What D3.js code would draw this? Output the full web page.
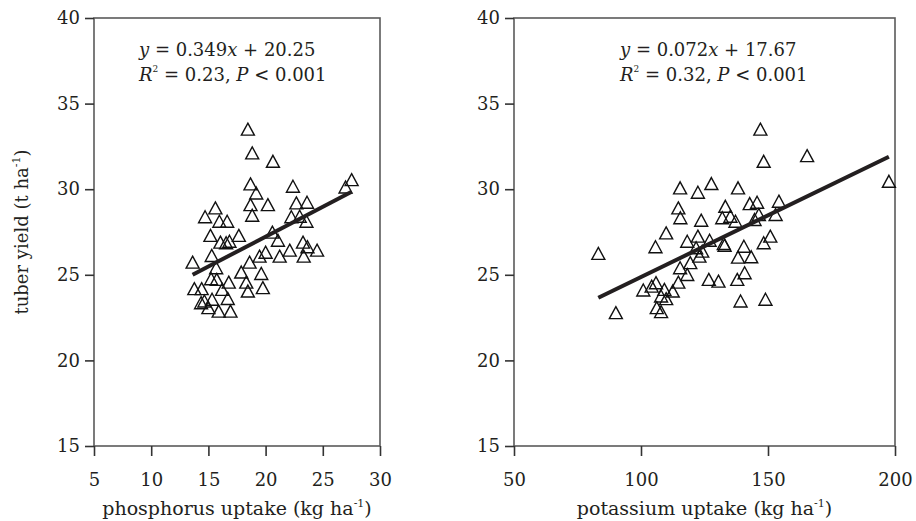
<!DOCTYPE html>
<html>
<head>
<meta charset="utf-8">
<script src="https://cdn.jsdelivr.net/npm/d3@7"></script>
<style>
  body { margin: 0; background: #fff; }
  text { font-family: "DejaVu Serif", serif; fill: #231f20; }
</style>
</head>
<body>
<script>
// phosphorus panel
const pUptake = [18.45, 18.83, 20.64, 18.68, 19.18, 22.39, 26.99, 27.52, 18.68, 20.2,
  22.69, 23.62, 18.83, 15.61, 14.71, 15.96, 16.64, 22.25, 22.98, 23.57,
  15.18, 16.05, 16.55, 16.84, 17.66, 20.59, 21.08, 23.27, 23.66, 24.5,
  22.11, 21.23, 23.33, 20.0, 19.47, 18.6, 13.62, 15.29, 15.68, 17.87,
  19.62, 18.31, 18.45, 19.76, 15.24, 15.73, 16.78, 13.77, 14.41, 16.2,
  14.65, 15.32, 16.69, 15.0, 15.9, 16.93, 14.36];
const pYield = [33.51, 32.12, 31.63, 30.31, 29.78, 30.17, 30.13, 30.56, 29.1, 29.1,
  29.2, 29.24, 28.48, 28.91, 28.39, 28.13, 28.13, 28.39, 28.42, 28.13,
  27.3, 26.91, 26.87, 26.96, 27.3, 27.49, 27.02, 26.91, 26.64, 26.44,
  26.44, 26.09, 26.09, 26.32, 26.09, 25.74, 25.74, 26.13, 25.41, 25.16,
  25.08, 24.57, 24.05, 24.25, 24.77, 24.73, 24.57, 24.19, 24.19, 24.15,
  23.47, 23.57, 23.62, 23.08, 22.88, 22.88, 23.37];

// potassium panel
const kUptake = [147.0, 148.3, 165.4, 197.6, 83.2, 90.1, 115.4, 122.4, 127.7, 138.2,
  114.7, 115.5, 123.7, 133.2, 132.0, 135.2, 137.2, 142.8, 145.7, 154.3,
  153.0, 144.7, 146.4, 109.9, 105.7, 118.2, 122.4, 127.0, 121.7, 124.1,
  123.0, 132.6, 132.9, 140.5, 148.3, 150.9, 138.2, 143.4, 119.4, 115.4,
  118.2, 114.7, 126.7, 130.5, 137.9, 140.8, 100.9, 104.2, 105.9, 109.2,
  112.5, 107.9, 109.9, 106.2, 107.9, 139.2, 149.0];
const kYield = [33.51, 31.63, 31.96, 30.46, 26.25, 22.79, 30.08, 29.82, 30.33, 30.08,
  28.91, 28.33, 28.19, 29.0, 28.33, 28.42, 28.13, 29.16, 29.24, 29.3,
  28.52, 28.23, 28.52, 27.45, 26.64, 26.96, 27.26, 27.02, 26.58, 26.38,
  26.09, 26.83, 26.73, 26.67, 26.87, 27.26, 26.03, 26.05, 25.71, 25.41,
  25.02, 24.57, 24.73, 24.63, 24.73, 25.12, 24.11, 24.34, 24.54, 24.15,
  24.05, 23.76, 23.61, 23.08, 22.85, 23.47, 23.57];

// regression lines: [slope, intercept], text
const pFit = [0.349, 20.25];
const kFit = [0.072, 17.67];
const pStats = ["0.349", "20.25", "0.23"];
const kStats = ["0.072", "17.67", "0.32"];

const yTicks = [15, 20, 25, 30, 35, 40];
const pTicks = [5, 10, 15, 20, 25, 30];
const kTicks = [50, 100, 150, 200];

const svg = d3.select("body").append("svg")
  .attr("width", 916)
  .attr("height", 521);

const plotTop = 18, plotBottom = 446;

const y = d3.scaleLinear().domain([15, 40]).range([plotBottom, plotTop]);

const tri = "M0,-6L6.5,6L-6.5,6Z";

function panel(opts) {
  const x = d3.scaleLinear().domain(opts.domain).range(opts.range);
  const g = svg.append("g");

  g.append("rect")
    .attr("x", opts.range[0]).attr("y", plotTop)
    .attr("width", opts.range[1] - opts.range[0])
    .attr("height", plotBottom - plotTop)
    .attr("fill", "none")
    .attr("stroke", "#5a5a5a")
    .attr("stroke-width", 1.6);

  const yAxis = g.append("g")
    .attr("transform", "translate(" + opts.range[0] + ",0)")
    .call(d3.axisLeft(y).tickValues(yTicks).tickSize(9).tickPadding(5));
  const xAxis = g.append("g")
    .attr("transform", "translate(0," + plotBottom + ")")
    .call(d3.axisBottom(x).tickValues(opts.ticks).tickSize(10).tickPadding(17));

  [xAxis, yAxis].forEach(a => {
    a.select(".domain").remove();
    a.selectAll("line").attr("stroke", "#333").attr("stroke-width", 1.6);
    a.selectAll("text").attr("font-size", 18).attr("font-family", "DejaVu Serif").attr("fill", "#231f20");
  });

  g.selectAll(".pt")
    .data(opts.xs.map((v, i) => [v, opts.ys[i]]))
    .enter().append("path")
    .attr("d", tri)
    .attr("transform", d => "translate(" + x(d[0]) + "," + y(d[1]) + ")")
    .attr("fill", "none")
    .attr("stroke", "#111")
    .attr("stroke-width", 1.4);

  const x0 = d3.min(opts.xs), x1 = d3.max(opts.xs);
  const f = v => opts.fit[0] * v + opts.fit[1];
  g.append("path")
    .attr("d", d3.line().x(d => x(d)).y(d => y(f(d)))([x0, x1]))
    .attr("stroke", "#231f20")
    .attr("stroke-width", 4)
    .attr("fill", "none");

  // equation
  const eq = g.append("text").attr("x", opts.eqX).attr("y", 56).attr("font-size", 18);
  eq.append("tspan").attr("font-style", "italic").text("y");
  eq.append("tspan").text(" = " + opts.stats[0]);
  eq.append("tspan").attr("font-style", "italic").text("x");
  eq.append("tspan").text(" + " + opts.stats[1]);

  const r2 = g.append("text").attr("x", opts.eqX).attr("y", 81).attr("font-size", 18);
  r2.append("tspan").attr("font-style", "italic").text("R");
  r2.append("tspan").attr("font-size", 9).attr("dy", -9).text("2");
  r2.append("tspan").attr("dy", 9).text(" = " + opts.stats[2] + ", ");
  r2.append("tspan").attr("font-style", "italic").text("P");
  r2.append("tspan").text(" < 0.001");

  // x title
  const t = g.append("text")
    .attr("x", (opts.range[0] + opts.range[1]) / 2)
    .attr("y", 515)
    .attr("text-anchor", "middle")
    .attr("font-size", 19);
  t.append("tspan").text(opts.title + " (kg ha");
  t.append("tspan").attr("font-size", 11).attr("dy", -8).text("-1");
  t.append("tspan").attr("dy", 8).text(")");
}

panel({ domain: [5, 30], range: [94, 380], ticks: pTicks, xs: pUptake, ys: pYield,
  fit: pFit, stats: pStats, eqX: 139, title: "phosphorus uptake" });
panel({ domain: [50, 200], range: [514, 895], ticks: kTicks, xs: kUptake, ys: kYield,
  fit: kFit, stats: kStats, eqX: 620, title: "potassium uptake" });

const yt = svg.append("text")
  .attr("transform", "translate(28," + (plotTop + plotBottom) / 2 + ") rotate(-90)")
  .attr("text-anchor", "middle")
  .attr("font-size", 18);
yt.append("tspan").text("tuber yield (t ha");
yt.append("tspan").attr("font-size", 11).attr("dy", -8).text("-1");
yt.append("tspan").attr("dy", 8).text(")");
</script>
</body>
</html>
